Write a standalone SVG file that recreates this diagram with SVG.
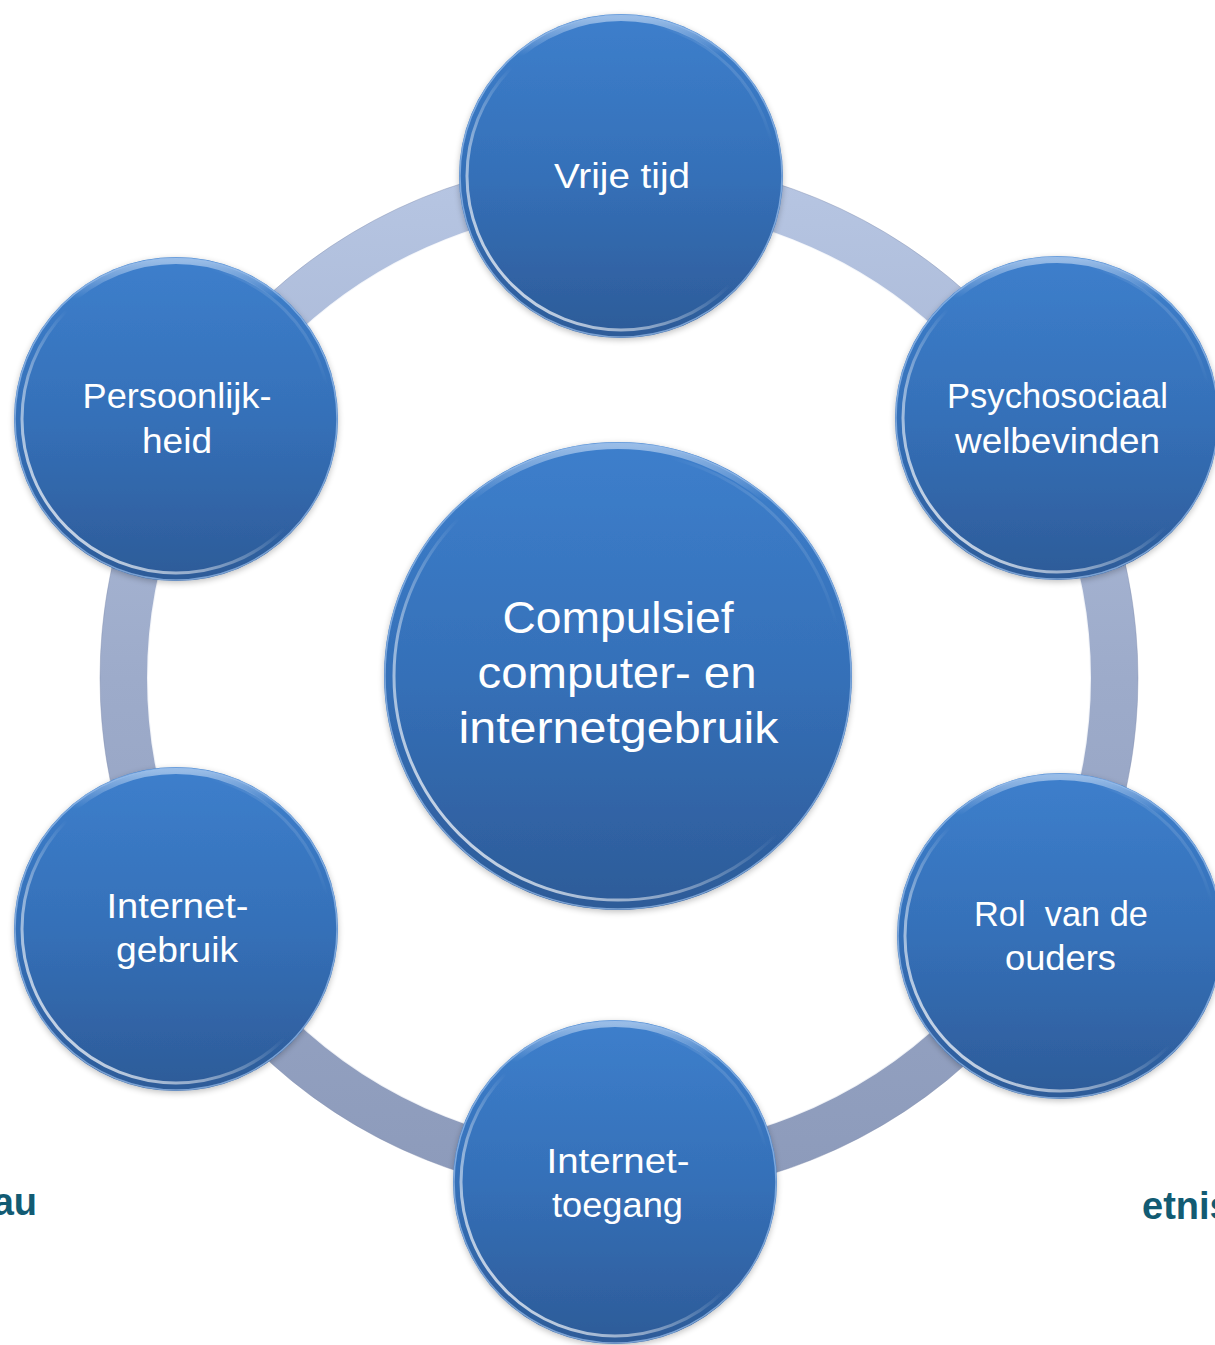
<svg xmlns="http://www.w3.org/2000/svg" width="1215" height="1345" viewBox="0 0 1215 1345">
  <style>
    .disc { fill: url(#nodeFill); filter: url(#shadow); }
    .edge { fill: none; stroke: #9CC0EC; stroke-width: 1.5; stroke-opacity: 0.7; }
    .bevelLow { fill: none; stroke: url(#bevelLow); stroke-width: 3; }
    .bevelTop { fill: none; stroke: url(#bevelTop); stroke-width: 6; }
    .lbl { font-family: "Liberation Sans", Arial, sans-serif; font-size: 35px; fill: #ffffff; text-anchor: middle; }
    .big { font-size: 45px; }
    .bg { font-family: "Liberation Sans", Arial, sans-serif; font-size: 38px; font-weight: bold; fill: #125B73; }
  </style>
  <defs>
    <linearGradient id="nodeFill" x1="0" y1="0" x2="0" y2="1">
      <stop offset="0" stop-color="#3D7FCC"/>
      <stop offset="0.5" stop-color="#3570B8"/>
      <stop offset="1" stop-color="#2D5B98"/>
    </linearGradient>
    <linearGradient id="bevelLow" x1="0" y1="1" x2="1" y2="0">
      <stop offset="0" stop-color="#ffffff" stop-opacity="0.95"/>
      <stop offset="0.3" stop-color="#ffffff" stop-opacity="0.45"/>
      <stop offset="0.5" stop-color="#ffffff" stop-opacity="0"/>
      <stop offset="0.8" stop-color="#ffffff" stop-opacity="0"/>
      <stop offset="1" stop-color="#ffffff" stop-opacity="0.45"/>
    </linearGradient>
    <linearGradient id="bevelTop" x1="0" y1="0" x2="0" y2="1">
      <stop offset="0" stop-color="#BFD6F2" stop-opacity="0.7"/>
      <stop offset="0.12" stop-color="#BFD6F2" stop-opacity="0"/>
      <stop offset="1" stop-color="#BFD6F2" stop-opacity="0"/>
    </linearGradient>
    <linearGradient id="ringGrad" gradientUnits="userSpaceOnUse" x1="0" y1="183" x2="0" y2="1173">
      <stop offset="0" stop-color="#B6C5E2"/>
      <stop offset="0.5" stop-color="#9DABCA"/>
      <stop offset="1" stop-color="#8D9BBB"/>
    </linearGradient>
    <filter id="shadow" x="-10%" y="-10%" width="120%" height="120%">
      <feGaussianBlur in="SourceAlpha" stdDeviation="3"/>
      <feOffset dx="0" dy="2" result="b"/>
      <feComponentTransfer><feFuncA type="linear" slope="0.25"/></feComponentTransfer>
      <feMerge><feMergeNode/><feMergeNode in="SourceGraphic"/></feMerge>
    </filter>
  </defs>

  <rect width="1215" height="1345" fill="#ffffff"/>

  <g id="background-text">
    <text class="bg" x="37" y="1215" text-anchor="end">au</text>
    <text class="bg" x="1142" y="1219">etnis</text>
  </g>

  <g id="connectors">
    <circle cx="619" cy="678" r="495" fill="none" stroke="url(#ringGrad)" stroke-width="48"/>
    <circle cx="619" cy="678" r="471" fill="none" stroke="#ffffff" stroke-width="2" stroke-opacity="0.85"/>
    <circle cx="619" cy="678" r="519" fill="none" stroke="#7F8DAD" stroke-width="1" stroke-opacity="0.4"/>
  </g>

  <g id="node-center">
    <circle class="disc" cx="618" cy="676" r="234"/>
    <circle class="bevelTop" cx="618" cy="676" r="230"/>
    <circle class="bevelLow" cx="618" cy="676" r="224"/>
    <circle class="edge" cx="618" cy="676" r="233"/>
    <text class="lbl big" x="618" y="633" textLength="231" lengthAdjust="spacingAndGlyphs">Compulsief</text>
    <text class="lbl big" x="617" y="688" textLength="279" lengthAdjust="spacingAndGlyphs">computer- en</text>
    <text class="lbl big" x="618.5" y="743" textLength="320" lengthAdjust="spacingAndGlyphs">internetgebruik</text>
  </g>

  <g id="node-vrije-tijd">
    <circle class="disc" cx="621" cy="176" r="162"/>
    <circle class="bevelTop" cx="621" cy="176" r="158"/>
    <circle class="bevelLow" cx="621" cy="176" r="154"/>
    <circle class="edge" cx="621" cy="176" r="161"/>
    <text class="lbl" x="622" y="188" textLength="136" lengthAdjust="spacingAndGlyphs">Vrije tijd</text>
  </g>

  <g id="node-psychosociaal">
    <circle class="disc" cx="1057" cy="418" r="162"/>
    <circle class="bevelTop" cx="1057" cy="418" r="158"/>
    <circle class="bevelLow" cx="1057" cy="418" r="154"/>
    <circle class="edge" cx="1057" cy="418" r="161"/>
    <text class="lbl" x="1057.5" y="408" textLength="221" lengthAdjust="spacingAndGlyphs">Psychosociaal</text>
    <text class="lbl" x="1057.5" y="453" textLength="205" lengthAdjust="spacingAndGlyphs">welbevinden</text>
  </g>

  <g id="node-ouders">
    <circle class="disc" cx="1060" cy="936" r="163"/>
    <circle class="bevelTop" cx="1060" cy="936" r="159"/>
    <circle class="bevelLow" cx="1060" cy="936" r="155"/>
    <circle class="edge" cx="1060" cy="936" r="162"/>
    <text class="lbl" x="1061" y="926" textLength="174" lengthAdjust="spacingAndGlyphs" xml:space="preserve">Rol  van de</text>
    <text class="lbl" x="1060.5" y="970" textLength="111" lengthAdjust="spacingAndGlyphs">ouders</text>
  </g>

  <g id="node-internettoegang">
    <circle class="disc" cx="615" cy="1182" r="162"/>
    <circle class="bevelTop" cx="615" cy="1182" r="158"/>
    <circle class="bevelLow" cx="615" cy="1182" r="154"/>
    <circle class="edge" cx="615" cy="1182" r="161"/>
    <text class="lbl" x="618" y="1173" textLength="143" lengthAdjust="spacingAndGlyphs">Internet-</text>
    <text class="lbl" x="617.5" y="1217" textLength="131" lengthAdjust="spacingAndGlyphs">toegang</text>
  </g>

  <g id="node-internetgebruik">
    <circle class="disc" cx="176" cy="929" r="162"/>
    <circle class="bevelTop" cx="176" cy="929" r="158"/>
    <circle class="bevelLow" cx="176" cy="929" r="154"/>
    <circle class="edge" cx="176" cy="929" r="161"/>
    <text class="lbl" x="177.5" y="918" textLength="142" lengthAdjust="spacingAndGlyphs">Internet-</text>
    <text class="lbl" x="177" y="962" textLength="122" lengthAdjust="spacingAndGlyphs">gebruik</text>
  </g>

  <g id="node-persoonlijkheid">
    <circle class="disc" cx="176" cy="419" r="162"/>
    <circle class="bevelTop" cx="176" cy="419" r="158"/>
    <circle class="bevelLow" cx="176" cy="419" r="154"/>
    <circle class="edge" cx="176" cy="419" r="161"/>
    <text class="lbl" x="177" y="408" textLength="189" lengthAdjust="spacingAndGlyphs">Persoonlijk-</text>
    <text class="lbl" x="177" y="453" textLength="70" lengthAdjust="spacingAndGlyphs">heid</text>
  </g>
</svg>
